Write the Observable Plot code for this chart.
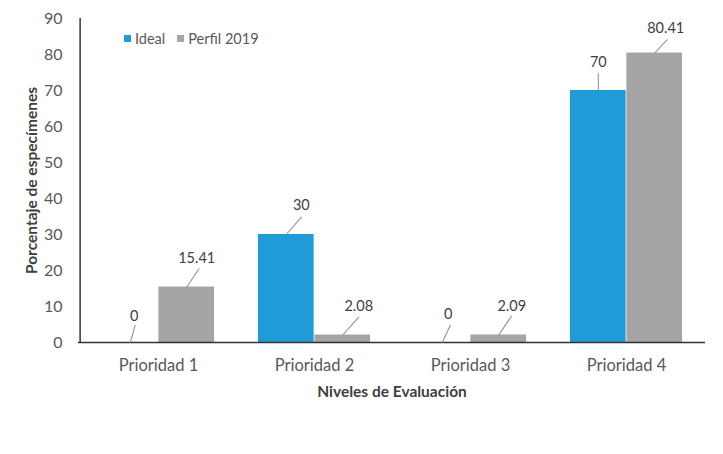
<!DOCTYPE html>
<html>
<head>
<meta charset="utf-8">
<script src="https://cdn.jsdelivr.net/npm/d3@7"></script>
<script src="https://cdn.jsdelivr.net/npm/@observablehq/plot@0.6"></script>
<style>
  html, body { margin: 0; padding: 0; background: #fff; }
  #chart { position: relative; width: 723px; height: 454px; font-family: Lato, sans-serif; }
  .legend { position: absolute; left: 124px; top: 30px; display: flex; align-items: center; font-size: 14.5px; color: #595959; }
  .legend .item { display: flex; align-items: center; margin-right: 12px; }
  .legend .sw { width: 7px; height: 7px; margin-right: 4px; }
</style>
</head>
<body>
<div id="chart"></div>
<script>
// ---- data ----
const categories = ["Prioridad 1", "Prioridad 2", "Prioridad 3", "Prioridad 4"];
const seriesNames = ["Ideal", "Perfil 2019"];
const idealValues = [0, 30, 0, 70];
const perfilValues = [15.41, 2.08, 2.09, 80.41];
const yTicks = [0, 10, 20, 30, 40, 50, 60, 70, 80, 90];

// ---- styles ----
const colors = ["#1f9bd7", "#a5a5a5"];
const W = 723, H = 454, ml = 78, mr = 18, mt = 18, mb = 112;
const bw = (W - ml - mr) / categories.length;
const outer = 0.14 * bw, half = 0.5 * bw, sub = 0.18 * bw;
// per-label leader/label nudges [labelDx, labelDy, leaderRotate, leaderLength]
const nudges = [
  [4, -26, 16, 18], [10, -29, 34, 22],
  [15, -29, 41, 23], [16, -29, 42, 24],
  [6, -28, 25, 19], [13, -29, 34, 23],
  [0, -28, 0, 17], [11, -25, 43, 18]
];

const data = categories.flatMap((c, i) => [
  {category: c, series: seriesNames[0], value: idealValues[i], k: 0},
  {category: c, series: seriesNames[1], value: perfilValues[i], k: 1}
]);

const lineShape = {draw(context, l) { context.moveTo(0, 0); context.lineTo(0, -l); }};

const labelMarks = data.flatMap((d, j) => {
  const [ldx, ldy, rot, len] = nudges[j];
  const off = d.k === 0 ? -sub : sub;
  return [
    Plot.vector([d], {x: "category", y: "value", dx: off, rotate: rot, length: len,
      anchor: "start", shape: lineShape, stroke: "#8c8c8c", strokeWidth: 1}),
    Plot.text([d], {x: "category", y: "value", text: e => String(e.value),
      dx: off + ldx, dy: ldy, fontSize: 14.5, fill: "#404040", textAnchor: "middle", lineAnchor: "middle"})
  ];
});

const plot = Plot.plot({
  width: W, height: H,
  marginLeft: ml, marginRight: mr, marginTop: mt, marginBottom: mb,
  style: {fontFamily: "Lato, sans-serif", color: "#595959", background: "transparent"},
  x: {domain: categories, padding: 0, axis: null},
  y: {domain: [0, 90], axis: null},
  marks: [
    Plot.barY(data.filter(d => d.k === 0), {x: "category", y: "value", fill: colors[0], insetLeft: outer, insetRight: half}),
    Plot.barY(data.filter(d => d.k === 1), {x: "category", y: "value", fill: colors[1], insetLeft: half, insetRight: outer}),
    Plot.ruleY([0], {stroke: "#333333", strokeWidth: 1.5}),
    Plot.ruleX([categories[0]], {dx: -bw / 2, stroke: "#333333", strokeWidth: 1.5}),
    Plot.axisY({ticks: yTicks, tickSize: 0, tickPadding: 16, fontSize: 16, label: null}),
    Plot.axisX({tickSize: 0, tickPadding: 17, fontSize: 16.5, label: null}),
    ...labelMarks,
    Plot.text(["Niveles de Evaluación"], {frameAnchor: "bottom", dy: 50, fontSize: 15.5, fontWeight: "bold", fill: "#404040", textAnchor: "middle", lineAnchor: "middle"}),
    Plot.text(["Porcentaje de especímenes"], {frameAnchor: "left", dx: -46, rotate: -90, fontSize: 15.5, fontWeight: "bold", fill: "#404040", textAnchor: "middle", lineAnchor: "middle"})
  ]
});

const chart = document.getElementById("chart");
chart.appendChild(plot);
const legend = document.createElement("div");
legend.className = "legend";
seriesNames.forEach((s, i) => {
  const item = document.createElement("div");
  item.className = "item";
  const sw = document.createElement("span");
  sw.className = "sw";
  sw.style.background = colors[i];
  const t = document.createElement("span");
  t.textContent = s;
  item.appendChild(sw); item.appendChild(t);
  legend.appendChild(item);
});
chart.appendChild(legend);
</script>
</body>
</html>
